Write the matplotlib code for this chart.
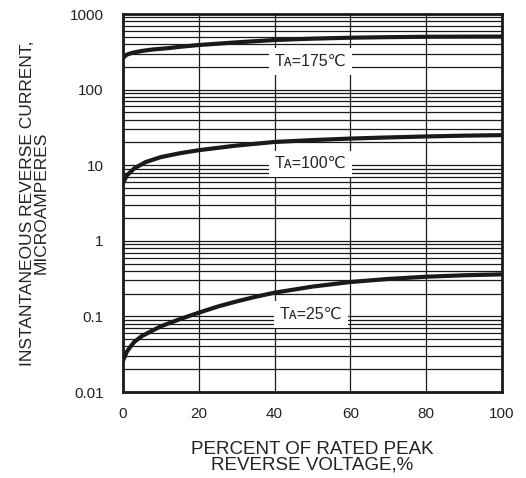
import numpy as np
import matplotlib.pyplot as plt
from matplotlib.ticker import LogLocator, FixedLocator, NullFormatter

plt.rcParams['font.family'] = ['Liberation Sans', 'DejaVu Sans']

# ── data ─────────────────────────────────────────────────────
pct_175 = [0, 1, 2.6, 5, 8, 11.6, 15, 20, 25, 30, 40, 50, 60, 70, 80, 90, 100]
cur_175 = [262, 290, 308, 325, 340, 352, 368, 389, 405, 422, 453, 472, 486, 494, 500, 502, 503]

pct_100 = [0, 1, 3, 6, 10, 15, 20, 30, 40, 50, 60, 70, 80, 90, 100]
cur_100 = [5.8, 7.3, 9.1, 11.0, 12.8, 14.4, 15.8, 18.2, 20.3, 21.5, 22.5, 23.3, 24.0, 24.6, 25.0]

pct_25 = [0, 1, 2, 3, 5, 7, 10, 15, 20, 25, 30, 35, 40, 50, 60, 70, 80, 90, 100]
cur_25 = [0.026, 0.034, 0.040, 0.046, 0.055, 0.062, 0.074, 0.092, 0.112, 0.135,
          0.158, 0.182, 0.206, 0.248, 0.285, 0.313, 0.335, 0.350, 0.360]

labels = ['Tᴀ=175℃', 'Tᴀ=100℃', 'Tᴀ=25℃']
label_y = [236, 10.5, 0.106]

yticks = [0.01, 0.1, 1, 10, 100, 1000]
ytick_labels = ['0.01', '0.1', '1', '10', '100', '1000']
xticks = [0, 20, 40, 60, 80, 100]

fig = plt.figure(figsize=(5.26, 4.78), dpi=100)
ax = fig.add_axes([0.2338, 0.1799, 0.7206, 0.7908])

for x, y in [(pct_175, cur_175), (pct_100, cur_100), (pct_25, cur_25)]:
    ax.plot(x, y, color='#1a1a1a', lw=3.0, solid_capstyle='butt', zorder=3)

ax.set_yscale('log')
ax.set_xlim(0, 100)
ax.set_ylim(0.01, 1000)
ax.set_yticks(yticks)
ax.set_yticklabels(ytick_labels)
ax.yaxis.set_minor_locator(LogLocator(base=10, subs=np.arange(2, 10)))
ax.yaxis.set_minor_formatter(NullFormatter())
ax.xaxis.set_major_locator(FixedLocator(xticks))

ax.grid(True, which='both', axis='y', color='#1a1a1a', lw=0.9)
ax.grid(True, which='major', axis='x', color='#1a1a1a', lw=0.9)
ax.tick_params(which='both', length=0)
ax.tick_params(axis='x', pad=11, labelsize=11, colors='#222222')
ax.tick_params(axis='y', pad=14, labelsize=11, colors='#222222')
for s in ax.spines.values():
    s.set_linewidth(2)
    s.set_color('#1a1a1a')

for lab, yv in zip(labels, label_y):
    ax.text(49.5, yv, lab, ha='center', va='center', fontsize=11.5,
            color='#222222', zorder=4,
            bbox=dict(facecolor='white', edgecolor='none', pad=4))

ax.set_xlabel('PERCENT OF RATED PEAK\nREVERSE VOLTAGE,%', fontsize=13.5,
              color='#222222', labelpad=14, linespacing=0.9)
ax.set_ylabel('INSTANTANEOUS REVERSE CURRENT,\nMICROAMPERES', fontsize=12.5,
              color='#222222', labelpad=15, linespacing=0.9)

fig.savefig('out.png', dpi=100)
